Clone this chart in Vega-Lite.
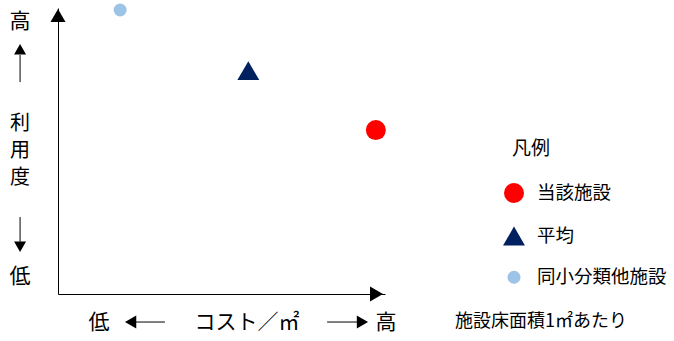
{
  "$schema": "https://vega.github.io/schema/vega-lite/v6.json",
  "width": 327,
  "height": 286,
  "autosize": {"type": "none"},
  "padding": {"left": 58, "top": 8, "right": 289, "bottom": 47},
  "background": "white",
  "data": {"values": [{}]},
  "config": {
    "view": {"stroke": null},
    "font": "Noto Sans CJK JP",
    "text": {"font": "Noto Sans CJK JP", "color": "black"}
  },
  "layer": [
    {
      "data": {"values": [
        {"区分": "当該施設", "cost": 97.2, "use": 57.3},
        {"区分": "平均", "cost": 58.2, "use": 78.1},
        {"区分": "同小分類他施設", "cost": 19.0, "use": 99.3}
      ]},
      "mark": {"type": "point", "filled": true, "opacity": 1},
      "encoding": {
        "x": {"field": "cost", "type": "quantitative", "scale": {"domain": [0, 100], "nice": false, "zero": false},
              "axis": {"domain": true, "domainColor": "black", "domainWidth": 1, "ticks": false, "labels": false, "grid": false, "title": null}},
        "y": {"field": "use", "type": "quantitative", "scale": {"domain": [0, 100], "nice": false, "zero": false},
              "axis": {"domain": true, "domainColor": "black", "domainWidth": 1, "ticks": false, "labels": false, "grid": false, "title": null}},
        "color": {"field": "区分", "type": "nominal",
                  "scale": {"domain": ["当該施設", "平均", "同小分類他施設"], "range": ["#FF0000", "#002060", "#9DC3E6"]},
                  "legend": {"title": "凡例", "orient": "none", "legendX": 454, "legendY": 132, "padding": 0,
                             "titleFontSize": 19, "titleFontWeight": "normal", "titleFont": "Noto Sans CJK JP", "titleColor": "black", "titlePadding": 24,
                             "labelFontSize": 18.5, "labelFont": "Noto Sans CJK JP", "labelColor": "black", "labelOffset": 12,
                             "rowPadding": 22, "symbolOffset": -9, "symbolStrokeWidth": 0}},
        "shape": {"field": "区分", "type": "nominal",
                  "scale": {"domain": ["当該施設", "平均", "同小分類他施設"], "range": ["circle", "triangle-up", "circle"]}},
        "size": {"field": "区分", "type": "nominal",
                 "scale": {"type": "ordinal", "domain": ["当該施設", "平均", "同小分類他施設"], "range": [400, 480, 169]}}
      }
    },
    {"mark": {"type": "point", "shape": "triangle-up", "filled": true, "color": "black", "opacity": 1, "size": 225},
     "encoding": {"x": {"datum": 0, "type": "quantitative"}, "y": {"datum": 97.4, "type": "quantitative"}}},
    {"mark": {"type": "point", "shape": "triangle-right", "filled": true, "color": "black", "opacity": 1, "size": 225},
     "encoding": {"x": {"datum": 97.4, "type": "quantitative"}, "y": {"datum": 0, "type": "quantitative"}}},

    {"mark": {"type": "text", "fontSize": 21}, "encoding": {"x": {"datum": -11.6, "type": "quantitative"}, "y": {"datum": 95.1, "type": "quantitative"}, "text": {"value": "高"}}},
    {"mark": {"type": "text", "fontSize": 20}, "encoding": {"x": {"datum": -11.6, "type": "quantitative"}, "y": {"datum": 59.6, "type": "quantitative"}, "text": {"value": "利"}}},
    {"mark": {"type": "text", "fontSize": 20}, "encoding": {"x": {"datum": -11.6, "type": "quantitative"}, "y": {"datum": 49.9, "type": "quantitative"}, "text": {"value": "用"}}},
    {"mark": {"type": "text", "fontSize": 20}, "encoding": {"x": {"datum": -11.6, "type": "quantitative"}, "y": {"datum": 40.4, "type": "quantitative"}, "text": {"value": "度"}}},
    {"mark": {"type": "text", "fontSize": 21}, "encoding": {"x": {"datum": -11.6, "type": "quantitative"}, "y": {"datum": 6.0, "type": "quantitative"}, "text": {"value": "低"}}},

    {"mark": {"type": "rule", "color": "black", "strokeWidth": 1},
     "encoding": {"x": {"datum": -11.6, "type": "quantitative"}, "y": {"datum": 74.1, "type": "quantitative"}, "y2": {"datum": 83.6}}},
    {"mark": {"type": "point", "shape": "triangle-up", "filled": true, "color": "black", "opacity": 1, "size": 144},
     "encoding": {"x": {"datum": -11.6, "type": "quantitative"}, "y": {"datum": 85.6, "type": "quantitative"}}},
    {"mark": {"type": "rule", "color": "black", "strokeWidth": 1},
     "encoding": {"x": {"datum": -11.6, "type": "quantitative"}, "y": {"datum": 26.9, "type": "quantitative"}, "y2": {"datum": 18.2}}},
    {"mark": {"type": "point", "shape": "triangle-down", "filled": true, "color": "black", "opacity": 1, "size": 144},
     "encoding": {"x": {"datum": -11.6, "type": "quantitative"}, "y": {"datum": 16.5, "type": "quantitative"}}},

    {"mark": {"type": "text", "fontSize": 21}, "encoding": {"x": {"datum": 12.5, "type": "quantitative"}, "y": {"datum": -10.1, "type": "quantitative"}, "text": {"value": "低"}}},
    {"mark": {"type": "point", "shape": "triangle-left", "filled": true, "color": "black", "opacity": 1, "size": 169},
     "encoding": {"x": {"datum": 22.2, "type": "quantitative"}, "y": {"datum": -9.8, "type": "quantitative"}}},
    {"mark": {"type": "rule", "color": "black", "strokeWidth": 1},
     "encoding": {"x": {"datum": 22.3, "type": "quantitative"}, "x2": {"datum": 32.7}, "y": {"datum": -9.8, "type": "quantitative"}}},
    {"mark": {"type": "text", "fontSize": 21}, "encoding": {"x": {"datum": 57.8, "type": "quantitative"}, "y": {"datum": -10.1, "type": "quantitative"}, "text": {"value": "コスト／㎡"}}},
    {"mark": {"type": "rule", "color": "black", "strokeWidth": 1},
     "encoding": {"x": {"datum": 82.3, "type": "quantitative"}, "x2": {"datum": 93.0}, "y": {"datum": -9.8, "type": "quantitative"}}},
    {"mark": {"type": "point", "shape": "triangle-right", "filled": true, "color": "black", "opacity": 1, "size": 169},
     "encoding": {"x": {"datum": 93.1, "type": "quantitative"}, "y": {"datum": -9.8, "type": "quantitative"}}},
    {"mark": {"type": "text", "fontSize": 21}, "encoding": {"x": {"datum": 100.3, "type": "quantitative"}, "y": {"datum": -10.1, "type": "quantitative"}, "text": {"value": "高"}}},

    {"mark": {"type": "text", "fontSize": 18, "align": "left"}, "encoding": {"x": {"datum": 121.4, "type": "quantitative"}, "y": {"datum": -9.8, "type": "quantitative"}, "text": {"value": "施設床面積1㎡あたり"}}}
  ]
}
